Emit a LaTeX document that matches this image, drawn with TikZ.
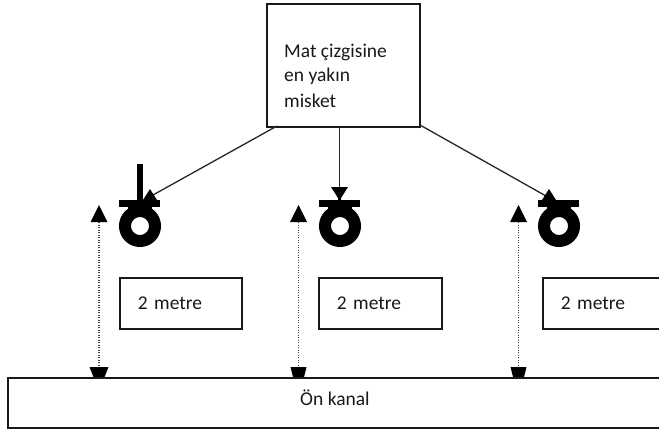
\documentclass[tikz,border=0pt]{standalone}
\usepackage{fontspec}
\setmainfont{Carlito}
\tikzset{
  x=1pt,y=-1pt,
  box/.style={draw=black!90,line width=1.6pt,rectangle,inner sep=0pt,anchor=north west},
  labelbox/.style={box,minimum height=51pt,text width=104pt,inner xsep=18pt,align=left},
  txt/.style={font=\fontsize{19.5}{25}\selectfont,text=black!90},
  conn/.style={draw=black!85,line width=1.3pt},
  guide/.style={draw=black!75,line width=1.5pt,dash pattern=on 1.4pt off 1.1pt},
  ink/.style={fill=black,draw=none},
}
\newcommand{\wheel}[1]{%
  \draw[black,line width=12pt] (#1,226) circle[radius=15];
  \fill[black] (#1-21,200) rectangle (#1+20,207);
  \fill[black] (#1-12,207) rectangle (#1+12,212);
}
\newcommand{\updown}[5]{% x, name, half base bottom, tip half width, top-tip y
  \coordinate (#2t) at (#1,222);
  \coordinate (#2b) at (#1,367);
  \draw[guide] (#2t) -- (#2b);
  \fill[ink] (#1,205) -- (#1+8.5,222) -- (#1-8.5,222) -- cycle;
  \fill[ink] (#1-#3,367) -- (#1+#3,367) -- (#1+#4,377) -- (#1-#4,377) -- cycle;
}
\begin{document}
\begin{tikzpicture}
\useasboundingbox (0,0) rectangle (659,429);
\clip (0,0) rectangle (659,429);
\fill[white] (0,0) rectangle (659,429);
% wheels
\wheel{140}
\wheel{340}
\wheel{559}
\fill[black] (137,164) rectangle (143,200);
% main box
\node[box,minimum width=153pt,minimum height=123pt] (main) at (266,3) {};
\node[txt,anchor=base west,inner sep=0pt] (l1) at (284,57) {Mat çizgisine};
\node[txt,anchor=base west,inner sep=0pt] (l2) at (284,81) {en yakın};
\node[txt,anchor=base west,inner sep=0pt] (l3) at (284,107) {misket};
% connectors
\coordinate (w1) at (153,195);
\coordinate (w2) at (339.5,187);
\coordinate (w3) at (546,196);
\coordinate (m1) at (277,126);
\coordinate (m3) at (420,125);
\draw[conn] (m1) -- (w1);
\draw[conn] (main.south -| w2) -- (w2);
\draw[conn] (m3) -- (w3);
\fill[ink] (150,189) -- (157,200) -- (143,200) -- cycle;
\fill[ink] (331,187) -- (348,187) -- (341,198) -- (341,200) -- (338,200) -- (338,198) -- cycle;
\fill[ink] (549,189) -- (556,200) -- (542,200) -- cycle;
% guides
\updown{99}{a}{9.5}{5.5}{205}
\updown{298.5}{b}{8}{5.5}{205}
\updown{518.5}{c}{8}{5.5}{205}
% label boxes
\node[labelbox,minimum width=122pt,text width=86pt,txt] (d1) at (119,277) {2 metre};
\node[labelbox,minimum width=123pt,text width=87pt,txt] (d2) at (318,277) {2 metre};
\node[labelbox,minimum width=140pt,text width=104pt,txt] (d3) at (542,277) {2 metre};
% front channel
\node[box,minimum width=670pt,minimum height=50pt,txt] (k) at (7,377) {};
\node[txt,anchor=base west,inner sep=0pt] (kt) at (300,405) {Ön kanal};
\end{tikzpicture}
\end{document}
